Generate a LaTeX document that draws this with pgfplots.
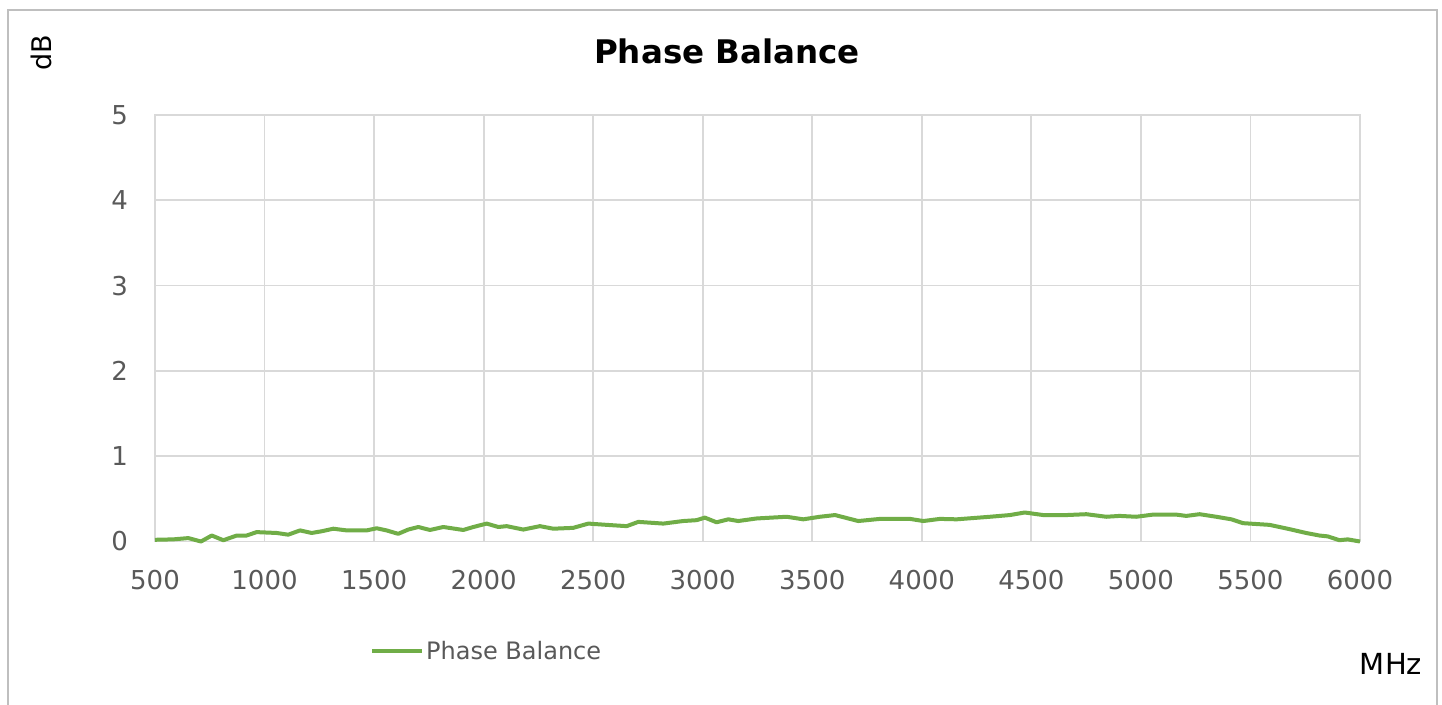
\documentclass[border=0pt]{standalone}
\usepackage{pgfplots}
\pgfplotsset{compat=1.18}
\usepackage{fontspec}
\setmainfont{DejaVu Sans}
\definecolor{pbgreen}{HTML}{70AD47}
\definecolor{gridgray}{HTML}{D9D9D9}
\definecolor{ticktext}{HTML}{595959}
\definecolor{framegray}{HTML}{BFBFBF}
\begin{document}
\begin{tikzpicture}[x=1pt,y=1pt]
\useasboundingbox (0,0) rectangle (1442,704);
\fill[white] (0,0) rectangle (1442,704);
\draw[framegray, line width=2pt] (8,-20) -- (8,694) -- (1437,694) -- (1437,-20);
\begin{axis}[
  at={(155pt,162.5pt)}, anchor=south west,
  scale only axis, width=1205pt, height=426.5pt,
  xmin=500, xmax=6000, ymin=0, ymax=5,
  xtick={500,1000,...,6000}, ytick={0,1,...,5},
  grid=major, grid style={gridgray, line width=1.8pt},
  axis line style={gridgray, line width=1.8pt},
  major tick length=0pt,
  /pgf/number format/assume math mode=true,
  /pgf/number format/1000 sep={},
  tick label style={font=\fontsize{26}{30}\selectfont, text=ticktext, inner sep=0pt},
  xticklabel style={anchor=center, yshift=-38.5pt},
  yticklabel style={anchor=east, xshift=-27pt},
  clip=false,
  legend style={draw=none, fill=none, at={(0.1784,-0.2567)}, anchor=west,
    font=\fontsize{24}{28}\selectfont, text=ticktext, inner sep=0pt,
    cells={anchor=west}},
  legend image code/.code={\draw[#1] (0pt,0pt) -- (50pt,0pt);},
]
\addplot[pbgreen, line width=4pt, line join=round] coordinates {
(500,0.02)(583,0.025)(652,0.04)(710,0.0)(759,0.07)(812,0.015)(873,0.07)(918,0.07)
(964,0.11)(1055,0.10)(1108,0.08)(1162,0.13)(1215,0.10)(1261,0.12)(1314,0.15)(1375,0.13)
(1466,0.13)(1512,0.155)(1557,0.13)(1610,0.09)(1656,0.14)(1702,0.17)(1755,0.135)(1816,0.17)
(1907,0.135)(1953,0.17)(2014,0.21)(2067,0.17)(2105,0.18)(2181,0.14)(2257,0.18)(2318,0.15)
(2409,0.16)(2478,0.21)(2562,0.195)(2653,0.18)(2706,0.23)(2820,0.21)(2911,0.24)(2972,0.25)
(3010,0.28)(3063,0.225)(3117,0.26)(3162,0.24)(3246,0.27)(3383,0.29)(3459,0.26)(3535,0.29)
(3604,0.31)(3710,0.24)(3809,0.265)(3946,0.265)(4007,0.24)(4083,0.265)(4159,0.26)(4311,0.29)
(4402,0.31)(4470,0.34)(4554,0.31)(4660,0.31)(4751,0.32)(4842,0.29)(4903,0.30)(4979,0.29)
(5055,0.315)(5162,0.315)(5207,0.30)(5268,0.32)(5344,0.29)(5413,0.26)(5466,0.215)(5587,0.195)
(5678,0.145)(5754,0.10)(5815,0.07)(5853,0.06)(5906,0.015)(5944,0.025)(6000,0.0)
};
\addlegendentry{Phase Balance}
\end{axis}
\node[anchor=base, font=\bfseries\fontsize{32.5}{36}\selectfont] at (727,640) {Phase Balance};
\node[rotate=90, font=\fontsize{27}{30}\selectfont] at (41,651) {dB};
\node[font=\fontsize{29}{32}\selectfont] at (1391,40) {MHz};
\end{tikzpicture}
\end{document}
